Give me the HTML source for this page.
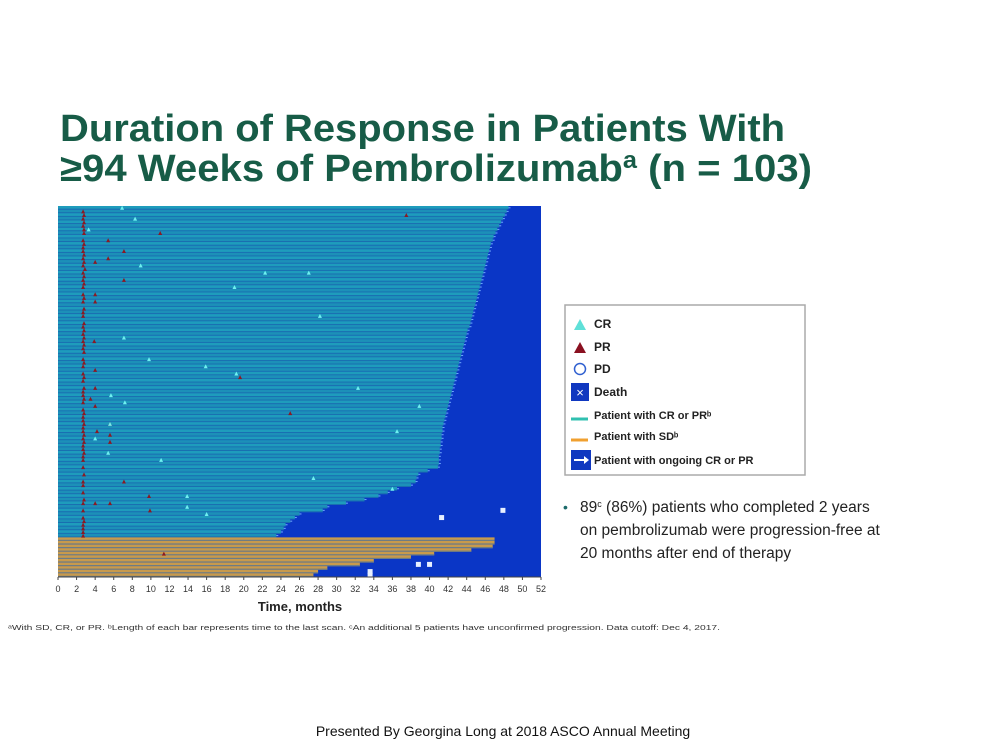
<!DOCTYPE html>
<html><head><meta charset="utf-8"><style>
body{margin:0;background:#fff;}
svg{display:block;font-family:"Liberation Sans",Arial,sans-serif;}
</style></head><body>
<svg id="s" width="1003" height="752" viewBox="0 0 1003 752">
<text x="60" y="141" font-size="38" font-weight="bold" fill="#175c47" textLength="725" lengthAdjust="spacingAndGlyphs">Duration of Response in Patients With</text>
<text x="60" y="181" font-size="38" font-weight="bold" fill="#175c47" textLength="752" lengthAdjust="spacingAndGlyphs">≥94 Weeks of Pembrolizumab<tspan font-size="24" dy="-13">a</tspan><tspan dy="13"> (n = 103)</tspan></text>
<g id="plot"></g>
<g id="axis"></g>
<text x="300" y="611" font-size="13" font-weight="bold" text-anchor="middle" fill="#222">Time, months</text>
<text x="8" y="630" font-size="7" fill="#333" textLength="712" lengthAdjust="spacingAndGlyphs">ᵃWith SD, CR, or PR. ᵇLength of each bar represents time to the last scan. ᶜAn additional 5 patients have unconfirmed progression. Data cutoff: Dec 4, 2017.</text>
<g>
<rect x="565" y="305" width="240" height="170" fill="#fff" stroke="#aaa" stroke-width="1.5"/>
<polygon points="574,330 580,319 586,330" fill="#5fe0d8"/><text x="594" y="328" font-size="12" font-weight="bold" fill="#222">CR</text>
<polygon points="574,353 580,342 586,353" fill="#8a1020"/><text x="594" y="351" font-size="12" font-weight="bold" fill="#222">PR</text>
<circle cx="580" cy="369" r="5.5" fill="none" stroke="#3060d0" stroke-width="1.5"/><text x="594" y="373" font-size="12" font-weight="bold" fill="#222">PD</text>
<rect x="571" y="383" width="18" height="18" fill="#1038c0"/><text x="580" y="397" font-size="13" fill="#fff" text-anchor="middle">×</text><text x="594" y="396" font-size="12" font-weight="bold" fill="#222">Death</text>
<line x1="571" y1="419" x2="588" y2="419" stroke="#30c0b0" stroke-width="3"/><text x="594" y="419" font-size="11" font-weight="bold" fill="#222">Patient with CR or PRᵇ</text>
<line x1="571" y1="440" x2="588" y2="440" stroke="#f0a030" stroke-width="3"/><text x="594" y="440" font-size="11" font-weight="bold" fill="#222">Patient with SDᵇ</text>
<rect x="571" y="450" width="20" height="20" fill="#1038c0"/><line x1="574" y1="460" x2="585" y2="460" stroke="#fff" stroke-width="2"/><polygon points="584,456 589,460 584,464" fill="#fff"/><text x="594" y="464" font-size="11" font-weight="bold" fill="#222">Patient with ongoing CR or PR</text>
</g>
<text x="563" y="512" font-size="14" fill="#1b6a6a">•</text>
<text font-size="15.5" fill="#222"><tspan x="580" y="512">89<tspan font-size="9" dy="-5">c</tspan><tspan dy="5"> (86%) patients who completed 2 years</tspan></tspan><tspan x="580" y="535">on pembrolizumab were progression-free at</tspan><tspan x="580" y="558">20 months after end of therapy</tspan></text>
<text x="503" y="736" font-size="14" fill="#111" text-anchor="middle">Presented  By Georgina Long at 2018 ASCO Annual  Meeting</text>
</svg>
<script>
const crDurations=[48.5,48.3,48.1,47.9,47.7,47.5,47.3,47.1,46.9,46.8,46.6,46.5,46.4,46.3,46.2,46.1,46.0,45.9,45.8,45.7,45.6,45.5,45.4,45.3,45.2,45.1,45.0,44.9,44.8,44.7,44.6,44.5,44.4,44.3,44.1,44.0,43.9,43.8,43.7,43.6,43.5,43.4,43.3,43.2,43.1,43.0,42.9,42.8,42.7,42.6,42.5,42.4,42.3,42.2,42.1,42.0,41.9,41.8,41.7,41.6,41.5,41.4,41.4,41.3,41.3,41.2,41.2,41.1,41.1,41.0,41.0,41.0,40.9,39.8,38.8,38.6,38.5,38.0,36.5,35.5,34.5,33.0,31.0,29.0,28.5,26.0,25.5,25.0,24.5,24.3,24.0,23.5];
const sdDurations=[47.0,47.0,46.8,44.5,40.5,38.0,34.0,32.5,29.0,28.0,27.5];
const prMarks=[[1,2.7],[2,2.8],[3,2.7],[4,2.8],[5,2.7],[6,2.8],[7,2.8],[9,2.7],[10,2.8],[11,2.7],[12,2.7],[13,2.8],[14,2.7],[15,2.8],[16,2.7],[18,2.7],[19,2.8],[20,2.7],[21,2.8],[22,2.7],[24,2.7],[25,2.8],[26,2.7],[28,2.8],[29,2.7],[30,2.7],[32,2.8],[33,2.7],[34,2.8],[35,2.7],[36,2.8],[37,2.7],[38,2.8],[39,2.7],[40,2.8],[42,2.7],[43,2.8],[44,2.7],[46,2.7],[47,2.8],[48,2.7],[50,2.8],[51,2.7],[52,2.7],[53,2.8],[54,2.7],[56,2.7],[57,2.8],[58,2.7],[59,2.7],[60,2.8],[61,2.7],[62,2.7],[63,2.8],[64,2.7],[65,2.8],[66,2.7],[67,2.7],[68,2.8],[69,2.7],[70,2.7],[72,2.7],[74,2.8],[76,2.7],[77,2.7],[79,2.7],[81,2.8],[82,2.7],[84,2.7],[86,2.7],[87,2.8],[88,2.7],[89,2.7],[90,2.7],[91,2.7],
[2,37.5],[7,11.0],[9,5.4],[12,7.1],[14,5.4],[15,4.0],[17,2.9],[20,7.1],[24,4.0],[26,4.0],[37,3.9],[45,4.0],[47,19.6],[50,4.0],[53,3.5],[55,4.0],[57,25.0],[60,5.6],[62,4.2],[63,5.6],[65,5.6],[76,7.1],[80,9.8],[82,4.0],[82,5.6],[84,9.9],[96,11.4]];
const crMarks=[[0,6.9],[3,8.3],[6,3.3],[16,8.9],[18,27.0],[18,22.3],[22,19.0],[30,28.2],[36,7.1],[42,9.8],[44,15.9],[46,19.2],[50,32.3],[52,5.7],[54,7.2],[55,38.9],[60,5.6],[62,36.5],[64,4.0],[68,5.4],[70,11.1],[75,27.5],[78,36.0],[80,13.9],[83,13.9],[85,16.0]];
const deathMarks=[[86,41.3],[84,47.9],[99,38.8],[99,40.0],[101,33.6],[102,33.6]];
const ticks=[0,2,4,6,8,10,12,14,16,18,20,22,24,26,28,30,32,34,36,38,40,42,44,46,48,50,52];
const NS="http://www.w3.org/2000/svg";
const X0=58,X1=541,Y0=206,Y1=577,N=103;
const rowH=(Y1-Y0)/N;
const xs=m=>X0+m*(X1-X0)/52;
const ys=i=>Y0+i*rowH;
function mk(t,a,p){const e=document.createElementNS(NS,t);for(const k in a)e.setAttribute(k,a[k]);p.appendChild(e);return e;}
const plot=document.getElementById('plot');
const bg=mk('rect',{x:X0,y:Y0,width:X1-X0,height:Y1-Y0,fill:'#0a36c6'},plot);


crDurations.forEach((d,i)=>{
 const r=mk('rect',{x:X0,y:ys(i),width:xs(d)-X0,height:rowH,fill:i%2?'#1c90b8':'#1e9cbc'},plot);
 
 
 mk('rect',{x:X0,y:ys(i)+rowH-0.9,width:xs(d)-X0,height:0.9,fill:'#1a6ab0'},plot);
 const a=mk('rect',{x:xs(d),y:ys(i)+rowH/2-0.5,width:2,height:1,fill:'#6fa8ff'},plot);
 
 
});
sdDurations.forEach((d,j)=>{
 const i=crDurations.length+j;
 const r=mk('rect',{x:X0,y:ys(i),width:xs(d)-X0,height:rowH,fill:'#c89a4c'},plot);
 
 
 mk('rect',{x:X0,y:ys(i)+rowH-1.2,width:xs(d)-X0,height:1.2,fill:'#6c7c86'},plot);
});
prMarks.forEach(([i,m])=>{
 const cx=xs(m),cy=ys(i)+rowH/2;
 const p=mk('polygon',{points:`${cx-2},${cy+2} ${cx},${cy-2} ${cx+2},${cy+2}`,fill:'#8a1a24'},plot);
 
 
});
crMarks.forEach(([i,m])=>{
 const cx=xs(m),cy=ys(i)+rowH/2;
 const p=mk('polygon',{points:`${cx-2},${cy+2} ${cx},${cy-2} ${cx+2},${cy+2}`,fill:'#6ff0f0'},plot);
 
 
});
deathMarks.forEach(([i,m])=>{
 const cx=xs(m),cy=ys(i)+rowH/2;
 const p=mk('rect',{x:cx-2.5,y:cy-2.5,width:5,height:5,fill:'#e8f0ff'},plot);
 
 
});
const ax=document.getElementById('axis');
mk('line',{x1:X0,y1:Y1,x2:X1,y2:Y1,stroke:'#444','stroke-width':1},ax);
ticks.forEach(t=>{
 mk('line',{x1:xs(t),y1:Y1,x2:xs(t),y2:Y1+3,stroke:'#444'},ax);
 const l=mk('text',{x:xs(t),y:Y1+15,'font-size':9,'text-anchor':'middle',fill:'#333'},ax);
 l.textContent=t;
 
 
});
</script>
</body></html>
